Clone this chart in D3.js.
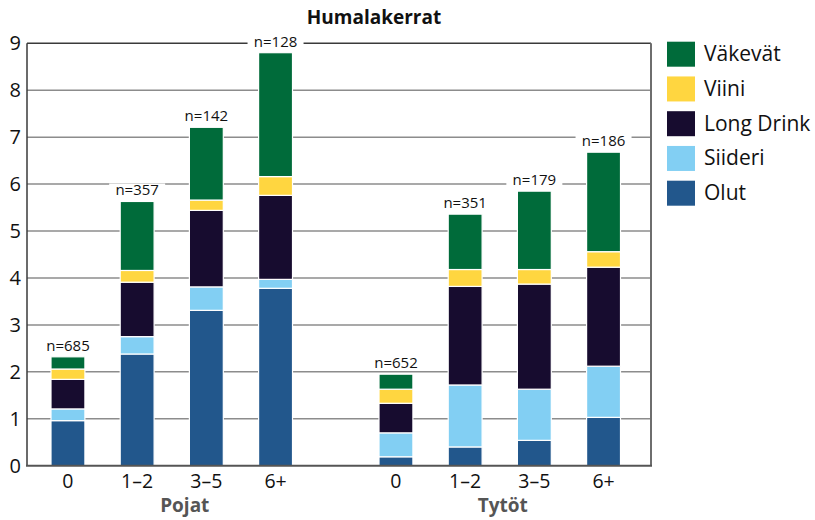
<!DOCTYPE html>
<html>
<head>
<meta charset="utf-8">
<script src="https://cdn.jsdelivr.net/npm/d3@7"></script>
<style>
  html, body { margin: 0; padding: 0; background: #fff; }
  svg { display: block; font-family: "Open Sans", "Noto Sans", sans-serif; }
</style>
</head>
<body>
<svg id="chart" width="815" height="520"></svg>
<script>
// ---- data ----
const groups = ["Pojat", "Tytöt"];
const categories = ["0", "1–2", "3–5", "6+"];
const seriesNames = ["Olut", "Siideri", "Long Drink", "Viini", "Väkevät"];
const olut      = [0.96, 2.38, 3.31, 3.78, 0.19, 0.40, 0.54, 1.03];
const siideri   = [0.25, 0.37, 0.50, 0.19, 0.51, 1.32, 1.09, 1.09];
const longDrink = [0.63, 1.16, 1.63, 1.79, 0.63, 2.10, 2.24, 2.11];
const viini     = [0.22, 0.25, 0.22, 0.40, 0.30, 0.36, 0.31, 0.33];
const vakevat   = [0.26, 1.47, 1.55, 2.64, 0.32, 1.18, 1.67, 2.12];
const nValues   = [685, 357, 142, 128, 652, 351, 179, 186];
const yTicks    = [0, 1, 2, 3, 4, 5, 6, 7, 8, 9];
const seriesColors = ["#22578c", "#82cff3", "#170c2f", "#ffd640", "#006b3a"];
const titleText = "Humalakerrat";

// ---- build rows ----
const seriesValues = [olut, siideri, longDrink, viini, vakevat];
const rows = [];
groups.forEach((g, gi) => {
  categories.forEach((c, ci) => {
    const i = gi * categories.length + ci;
    const row = { group: g, cat: c, n: nValues[i] };
    seriesNames.forEach((s, si) => row[s] = seriesValues[si][i]);
    rows.push(row);
  });
});
const stacked = d3.stack().keys(seriesNames)(rows);

// ---- layout ----
const svg = d3.select("#chart");
const plot = { left: 27, right: 651, top: 43.3, bottom: 465.7 };

const y = d3.scaleLinear().domain([0, 9]).range([plot.bottom, plot.top]);
const xGroup = d3.scaleBand().domain(groups).range([7.75, 663.75]);
const xInner = d3.scaleBand().domain(categories).range([0, xGroup.bandwidth()])
  .paddingInner(0.51).paddingOuter(0.625);
const color = d3.scaleOrdinal().domain(seriesNames).range(seriesColors);
const barX = d => xGroup(d.group) + xInner(d.cat);

// gridlines
svg.append("g").selectAll("line")
  .data(yTicks.filter(t => t > 0 && t < 9))
  .join("line")
  .attr("x1", plot.left).attr("x2", plot.right)
  .attr("y1", d => y(d)).attr("y2", d => y(d))
  .attr("stroke", "#8c8c8c").attr("stroke-width", 1.5);

// bars
svg.append("g").selectAll("g")
  .data(stacked)
  .join("g")
  .attr("fill", d => color(d.key))
  .selectAll("rect")
  .data(d => d)
  .join("rect")
  .attr("x", d => barX(d.data))
  .attr("width", xInner.bandwidth())
  .attr("y", d => y(d[1]))
  .attr("height", d => y(d[0]) - y(d[1]))
  .attr("stroke", "#ffffff").attr("stroke-width", 1.2);

// frame
const frame = svg.append("g");
frame.append("line").attr("x1", plot.left).attr("x2", plot.right)
  .attr("y1", y(9)).attr("y2", y(9)).attr("stroke", "#3a3a3a").attr("stroke-width", 1.5);
frame.append("line").attr("x1", plot.left).attr("x2", plot.left)
  .attr("y1", y(9)).attr("y2", y(0)).attr("stroke", "#3a3a3a").attr("stroke-width", 1.5);
frame.append("line").attr("x1", plot.right).attr("x2", plot.right)
  .attr("y1", y(9)).attr("y2", y(0)).attr("stroke", "#6e6e6e").attr("stroke-width", 2);
frame.append("line").attr("x1", plot.left - 1).attr("x2", plot.right + 1)
  .attr("y1", y(0)).attr("y2", y(0)).attr("stroke", "#555").attr("stroke-width", 2);

// n labels with white background
const nTop = rows.map(r => ({ r, top: d3.sum(seriesNames, s => r[s]) }));
const lab = svg.append("g").selectAll("g").data(nTop).join("g")
  .attr("transform", d => `translate(${barX(d.r) + xInner.bandwidth() / 2},${y(d.top) - 6})`);
lab.append("rect")
  .attr("x", -28).attr("width", 56).attr("y", -12).attr("height", 14)
  .attr("fill", "#fff");
lab.append("text")
  .attr("text-anchor", "middle")
  .attr("font-size", 15).attr("fill", "#111")
  .text(d => "n=" + d.r.n);

// y axis
const yAxis = svg.append("g")
  .attr("transform", `translate(${plot.left},0)`)
  .call(d3.axisLeft(y).tickValues(yTicks).tickSize(0).tickPadding(6).tickFormat(d3.format("d")));
yAxis.select(".domain").remove();
yAxis.selectAll("text").attr("font-size", 20).attr("fill", "#111")
  .attr("font-family", "'Open Sans', sans-serif");

// x axis per group
groups.forEach(g => {
  const ax = svg.append("g")
    .attr("transform", `translate(${xGroup(g)},${plot.bottom + 4})`)
    .call(d3.axisBottom(xInner).tickSize(0).tickPadding(4));
  ax.select(".domain").remove();
  ax.selectAll("text").attr("font-size", 19.5).attr("fill", "#111")
    .attr("font-family", "'Open Sans', sans-serif");
});

// group labels
const groupOffset = { "Pojat": 13, "Tytöt": 3 };
svg.append("g").selectAll("text").data(groups).join("text")
  .attr("x", d => xGroup(d) + xGroup.bandwidth() / 2 + groupOffset[d])
  .attr("y", 512)
  .attr("text-anchor", "middle")
  .attr("font-size", 19).attr("font-weight", "bold").attr("fill", "#555")
  .text(d => d);

// title
svg.append("text")
  .attr("x", 374).attr("y", 24)
  .attr("text-anchor", "middle")
  .attr("font-size", 19).attr("font-weight", "bold").attr("fill", "#111")
  .text(titleText);

// legend
const legendOrder = seriesNames.slice().reverse();
const leg = svg.append("g").selectAll("g").data(legendOrder).join("g")
  .attr("transform", (d, i) => `translate(667,${41.7 + i * 34.75})`);
leg.append("rect").attr("width", 28).attr("height", 25).attr("fill", d => color(d));
leg.append("text").attr("x", 37).attr("y", 19.5)
  .attr("font-size", 21).attr("fill", "#111").text(d => d);
</script>
</body>
</html>
